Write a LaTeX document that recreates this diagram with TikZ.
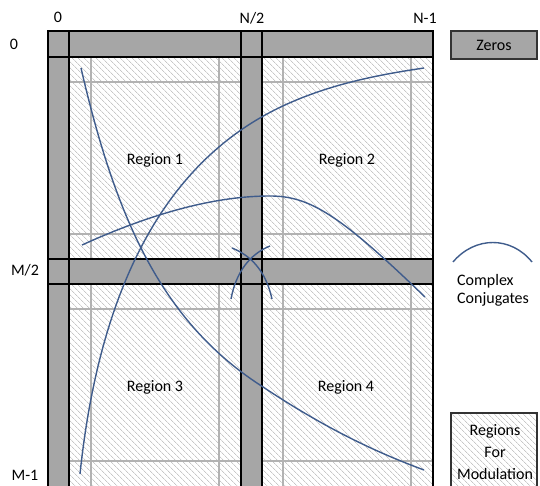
\documentclass[tikz,border=0pt]{standalone}
\usepackage{fontspec}
\setmainfont{Carlito}
\usetikzlibrary{patterns.meta}
\definecolor{bandgray}{HTML}{A6A6A6}
\definecolor{curveblue}{HTML}{3F5C8C}
\begin{document}
\begin{tikzpicture}[x=1pt,y=-1pt,
    band/.style={fill=bandgray},
    edge/.style={line width=1.8pt},
    guide/.style={draw=black!30,line width=1.4pt},
    hatch/.style={fill=white,pattern={Lines[angle=-45,distance=4pt,line width=0.7pt]},pattern color=black!22},
    curve/.style={draw=curveblue,line width=1.4pt},
    lab/.style={font=\fontsize{16}{22}\selectfont,inner sep=0pt}]
\useasboundingbox (0,0) rectangle (540,486);
\fill[white] (0,0) rectangle (540,486);
\path[hatch] (48,31) rectangle (433,490);
\foreach \x in {91,219,283,411}
    \draw[guide] (\x,57) -- (\x,490);
\foreach \y in {82,234,309,461}
    \draw[guide] (69,\y) -- (433,\y);
\fill[band] (48,31) rectangle (433,57);
\fill[band] (48,31) rectangle (69,490);
\fill[band] (241,31) rectangle (262,490);
\fill[band] (48,259) rectangle (433,284);
\draw[edge] (48,31) rectangle (433,490);
\draw[edge] (48,57) -- (433,57);
\draw[edge] (69,31) -- (69,490);
\draw[edge] (241,31) -- (241,490);
\draw[edge] (262,31) -- (262,490);
\draw[edge] (48,259) -- (433,259);
\draw[edge] (48,284) -- (433,284);
\draw[curve] (81,68) .. controls (115,215) and (160,320) .. (260,385) .. controls (320,425) and (370,450) .. (424,470);
\draw[curve] (80,474) .. controls (95,330) and (140,200) .. (241,130) .. controls (300,89) and (370,76) .. (424,68);
\draw[curve] (82,245) .. controls (170,205) and (230,196) .. (270,196) .. controls (310,196) and (340,215) .. (425,297);
\draw[curve] (232,248) .. controls (252,256) and (266,272) .. (272,299);
\draw[curve] (270,246) .. controls (250,254) and (236,272) .. (231,299);
\node[lab] (col0) at (58,17) {0};
\node[lab] (colhalf) at (252,18) {N/2};
\node[lab] (colend) at (425,18) {N-1};
\node[lab] (row0) at (14,44) {0};
\node[lab] (rowhalf) at (25,270) {M/2};
\node[lab] (rowend) at (25,475) {M-1};
\node[lab] (reg1) at (155,160) {Region 1};
\node[lab] (reg2) at (347,160) {Region 2};
\node[lab] (reg3) at (155,387) {Region 3};
\node[lab] (reg4) at (346,387) {Region 4};
\node[lab,draw=black!80,line width=1.5pt,fill=bandgray,minimum width=86pt,minimum height=28pt] (zeros) at (494,45) {Zeros};
\draw[curve] (453,262) .. controls (475,236) and (511,236) .. (532,262);
\node[lab,anchor=west] (cplx) at (457,281) {Complex};
\node[lab,anchor=west] (conj) at (457,299) {Conjugates};
\draw[hatch,draw=black!80,line width=1.5pt] (451,413) rectangle (537,490);
\node[lab,align=center] (modtxt) at (495,452) {Regions\\For\\Modulation};
\end{tikzpicture}
\end{document}
